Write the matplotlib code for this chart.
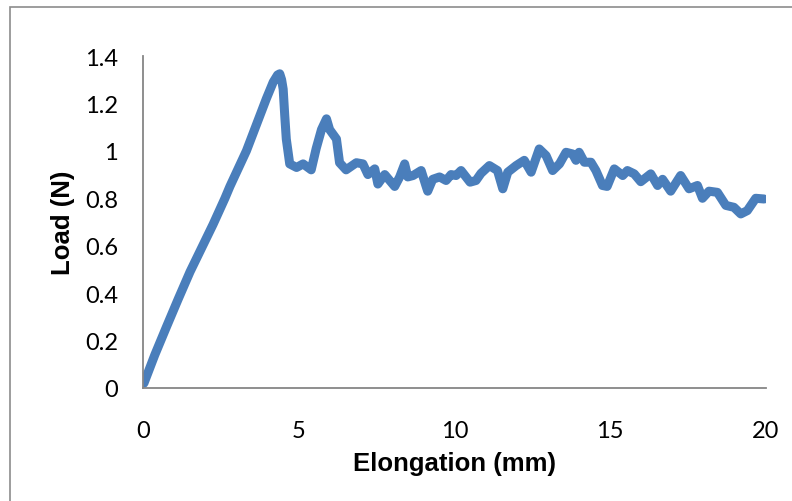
#!/usr/bin/env python3

import matplotlib
matplotlib.use('Agg')

import matplotlib.pyplot as plt
from matplotlib.patches import Rectangle

# elongation (mm) and load (N)
elongation = [0.03, 0.38, 0.76, 1.13, 1.51, 1.88, 2.25, 2.63, 2.79, 3.32,
              3.64, 3.96, 4.18, 4.32, 4.39, 4.45, 4.5, 4.55, 4.6, 4.71,
              4.93, 5.14, 5.4, 5.56, 5.73, 5.89, 5.99, 6.21, 6.31, 6.52,
              6.85, 7.06, 7.22, 7.44, 7.54, 7.76, 7.92, 8.08, 8.24, 8.4,
              8.5, 8.67, 8.93, 9.09, 9.14, 9.3, 9.52, 9.73, 9.89, 10.05,
              10.21, 10.5, 10.69, 10.85, 11.12, 11.38, 11.55, 11.71, 11.98, 12.24,
              12.46, 12.72, 12.94, 13.15, 13.37, 13.58, 13.79, 13.9, 14.0, 14.17,
              14.38, 14.54, 14.75, 14.9, 15.13, 15.4, 15.55, 15.77, 15.98, 16.3,
              16.52, 16.68, 16.94, 17.26, 17.53, 17.8, 17.96, 18.17, 18.44, 18.71,
              18.97, 19.19, 19.4, 19.67, 19.94]
load = [0.02, 0.14, 0.26, 0.375, 0.49, 0.59, 0.69, 0.80, 0.85, 1.0,
        1.11, 1.22, 1.29, 1.32, 1.325, 1.30, 1.26, 1.15, 1.05, 0.945,
        0.93, 0.945, 0.92, 1.01, 1.09, 1.135, 1.09, 1.05, 0.95, 0.92,
        0.95, 0.945, 0.90, 0.924, 0.86, 0.90, 0.875, 0.85, 0.89, 0.945,
        0.89, 0.896, 0.917, 0.85, 0.83, 0.88, 0.89, 0.875, 0.90, 0.896,
        0.917, 0.868, 0.875, 0.905, 0.938, 0.917, 0.84, 0.91, 0.938, 0.96,
        0.91, 1.008, 0.98, 0.917, 0.945, 0.994, 0.987, 0.96, 0.994, 0.952,
        0.952, 0.917, 0.854, 0.85, 0.924, 0.896, 0.917, 0.903, 0.87, 0.903,
        0.854, 0.88, 0.83, 0.896, 0.84, 0.854, 0.80, 0.83, 0.825, 0.77,
        0.762, 0.734, 0.748, 0.80, 0.797]

x_ticks = [0, 5, 10, 15, 20]
y_ticks = [0, 0.2, 0.4, 0.6, 0.8, 1, 1.2, 1.4]
y_tick_labels = ['0', '0.2', '0.4', '0.6', '0.8', '1', '1.2', '1.4']


def main():
    fig = plt.figure(figsize=(7.92, 5.02), dpi=100)
    ax = fig.add_axes([143 / 792, 113 / 502, 623 / 792, 332 / 502])

    # chart area border (only left and top show in the crop)
    fig.patches.append(Rectangle((10 / 792, -0.05), 1.2, (502 - 8) / 502 + 0.05,
                                 transform=fig.transFigure, fill=False,
                                 edgecolor='#8c8c8c', linewidth=1.2))

    ax.plot(elongation, load, color='#4A7EBB', linewidth=6.5,
            solid_capstyle='round', solid_joinstyle='round')

    ax.set_xlim(0, 20)
    ax.set_ylim(0, 1.4)
    ax.set_xticks(x_ticks)
    ax.set_yticks(y_ticks)
    ax.set_yticklabels(y_tick_labels)
    ax.tick_params(length=0, labelsize=17)
    ax.tick_params(axis='x', pad=23)
    ax.tick_params(axis='y', pad=18)
    for lab in ax.get_xticklabels() + ax.get_yticklabels():
        lab.set_family('Lato')

    for side in ['top', 'right']:
        ax.spines[side].set_visible(False)
    for side in ['left', 'bottom']:
        ax.spines[side].set_color('#868686')
        ax.spines[side].set_linewidth(1.3)

    ax.set_xlabel('Elongation (mm)', family='Liberation Sans', fontweight='bold',
                  fontsize=18.5, va='center')
    ax.set_ylabel('Load (N)', family='Liberation Sans', fontweight='bold',
                  fontsize=18.5, va='center')
    ax.xaxis.set_label_coords(0.5, (389 - 464) / 332)
    ax.yaxis.set_label_coords((63 - 143) / 623, 0.5)

    plt.savefig('out.png', dpi=100)


if __name__ == "__main__":
    main()
